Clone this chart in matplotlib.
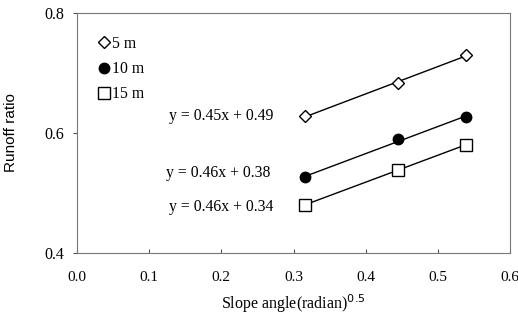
import numpy as np
import matplotlib
matplotlib.use("Agg")
import matplotlib.pyplot as plt

slope = [0.316, 0.445, 0.539]
runoff_5m = [0.628, 0.683, 0.730]
runoff_10m = [0.526, 0.590, 0.626]
runoff_15m = [0.480, 0.539, 0.580]
series_labels = ["5 m", "10 m", "15 m"]
equations = ["y = 0.45x + 0.49", "y = 0.46x + 0.38", "y = 0.46x + 0.34"]
eq_pos = [(0.272, 0.628), (0.268, 0.534), (0.272, 0.476)]
xticks = [0.0, 0.1, 0.2, 0.3, 0.4, 0.5, 0.6]
yticks = [0.4, 0.6, 0.8]

plt.rcParams['font.family'] = ['Liberation Serif', 'DejaVu Serif']

fig = plt.figure(figsize=(5.18, 3.22), dpi=100)
ax = fig.add_axes([77/518, 69/322, 433/518, 240/322])

styles = [
    dict(marker='D', mfc='white', mec='black', ms=6.5, mew=1.0),
    dict(marker='o', mfc='black', mec='black', ms=7.5, mew=1.0),
    dict(marker='s', mfc='white', mec='black', ms=9, mew=1.0),
]
xs = np.array(slope)
for ys, lab, st in zip([runoff_5m, runoff_10m, runoff_15m], series_labels, styles):
    k, b = np.polyfit(xs, ys, 1)
    ax.plot(xs, k * xs + b, color='black', lw=1.0, zorder=2)
    ax.plot(xs, ys, linestyle='none', label=lab, zorder=3, **st)

for eq, (ex, ey) in zip(equations, eq_pos):
    ax.text(ex, ey, eq, fontsize=11.3, ha='right', va='center')

ax.set_xlim(0.0, 0.6)
ax.set_ylim(0.4, 0.8)
ax.set_xticks(xticks)
ax.set_xticklabels([f"{t:.1f}" for t in xticks])
ax.set_yticks(yticks)
ax.set_yticklabels([f"{t:.1f}" for t in yticks])
ax.tick_params(axis='x', direction='in', length=3, labelsize=11, pad=13, color='#555555')
ax.tick_params(axis='y', direction='out', length=3, labelsize=11.5, pad=6, color='#555555')
for sp in ax.spines.values():
    sp.set_color('#777777')
    sp.set_linewidth(0.8)

ax.set_xlabel("Slope angle(radian)$^{0.5}$", fontsize=11.5, labelpad=6)
ax.yaxis.set_label_coords(-59/433, 0.5)
ax.set_ylabel("Runoff ratio", fontsize=11, family=['Liberation Sans', 'DejaVu Sans'])

leg = ax.legend(loc='upper left', bbox_to_anchor=(0.02, 0.945), frameon=False,
                fontsize=11.3, handletextpad=0.0, labelspacing=0.6,
                handlelength=1.1, borderaxespad=0.2)

fig.savefig("out.png", dpi=100)
